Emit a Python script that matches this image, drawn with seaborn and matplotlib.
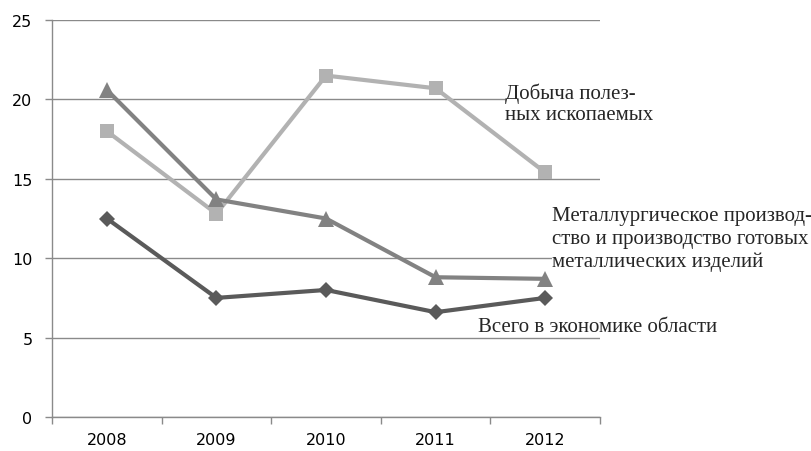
import matplotlib
matplotlib.use("Agg")
import matplotlib.pyplot as plt
import seaborn as sns
import pandas as pd

years = ["2008", "2009", "2010", "2011", "2012"]
mining = [18.0, 12.8, 21.5, 20.7, 15.4]
metal = [20.6, 13.7, 12.5, 8.8, 8.7]
total = [12.5, 7.5, 8.0, 6.6, 7.5]
names = ["Добыча полезных ископаемых",
         "Металлургическое производство и производство готовых металлических изделий",
         "Всего в экономике области"]
yticks = [0, 5, 10, 15, 20, 25]

rows = []
for nm, vals in zip(names, [mining, metal, total]):
    for i, (yr, v) in enumerate(zip(years, vals)):
        rows.append({"pos": i, "year": yr, "value": v, "series": nm})
df = pd.DataFrame(rows)

sns.set_style("white")
plt.rcParams['font.family'] = ['DejaVu Sans']

W, H = 812, 452
fig = plt.figure(figsize=(W / 100, H / 100), dpi=100)
ax = fig.add_axes([52 / W, 1 - 418 / H, (600 - 52) / W, (418 - 21) / H])

palette = {names[0]: "#b2b2b2", names[1]: "#828282", names[2]: "#5a5a5a"}
markers = {names[0]: "s", names[1]: "^", names[2]: "D"}
msizes = {names[0]: 10, names[1]: 11, names[2]: 8}

for nm in names:
    sub = df[df["series"] == nm]
    sns.lineplot(data=sub, x="pos", y="value", color=palette[nm], marker=markers[nm],
                 markersize=msizes[nm], markeredgewidth=0, linewidth=3, ax=ax,
                 legend=False, zorder=3)

ax.set_xlim(-0.5, len(years) - 0.5)
ax.set_ylim(0, 25)
ax.set_yticks(yticks)
ax.set_yticklabels([str(t) for t in yticks])
ax.set_xticks([i - 0.5 for i in range(len(years) + 1)])
ax.set_xticklabels([])
ax.set_xticks(range(len(years)), minor=True)
ax.set_xticklabels(years, minor=True)
ax.set_xlabel("")
ax.set_ylabel("")

gc = "#8a8a8a"
ax.grid(axis="y", color=gc, linewidth=1)
ax.grid(axis="x", visible=False)
ax.set_axisbelow(True)
for s in ["top", "right"]:
    ax.spines[s].set_visible(False)
for s in ["left", "bottom"]:
    ax.spines[s].set_color(gc)
    ax.spines[s].set_linewidth(1)

ax.tick_params(axis="y", which="major", length=5, width=1, color=gc, pad=9,
               labelsize=11.5, labelcolor="#000000", left=True)
ax.tick_params(axis="x", which="major", length=5, width=1, color=gc, direction="out", bottom=True)
ax.tick_params(axis="x", which="minor", length=0, pad=11, labelsize=11.5, labelcolor="#000000")

serif = ["Liberation Serif", "DejaVu Serif"]
fs = 15
def fx(px):
    return px / W
def fy(py):
    return 1 - py / H

fig.text(fx(505), fy(84), "Добыча полез-\nных ископаемых", family=serif, fontsize=fs,
         va="top", ha="left", linespacing=1.1,
         bbox=dict(facecolor="white", edgecolor="none", pad=0))
fig.text(fx(552), fy(207), "Металлургическое производ-\nство и производство готовых\nметаллических изделий",
         family=serif, fontsize=fs, va="top", ha="left", linespacing=1.28,
         bbox=dict(facecolor="white", edgecolor="none", pad=0))
fig.text(fx(478), fy(328), "Всего в экономике области", family=serif, fontsize=fs,
         va="center", ha="left")

fig.savefig("out.png", dpi=100)
